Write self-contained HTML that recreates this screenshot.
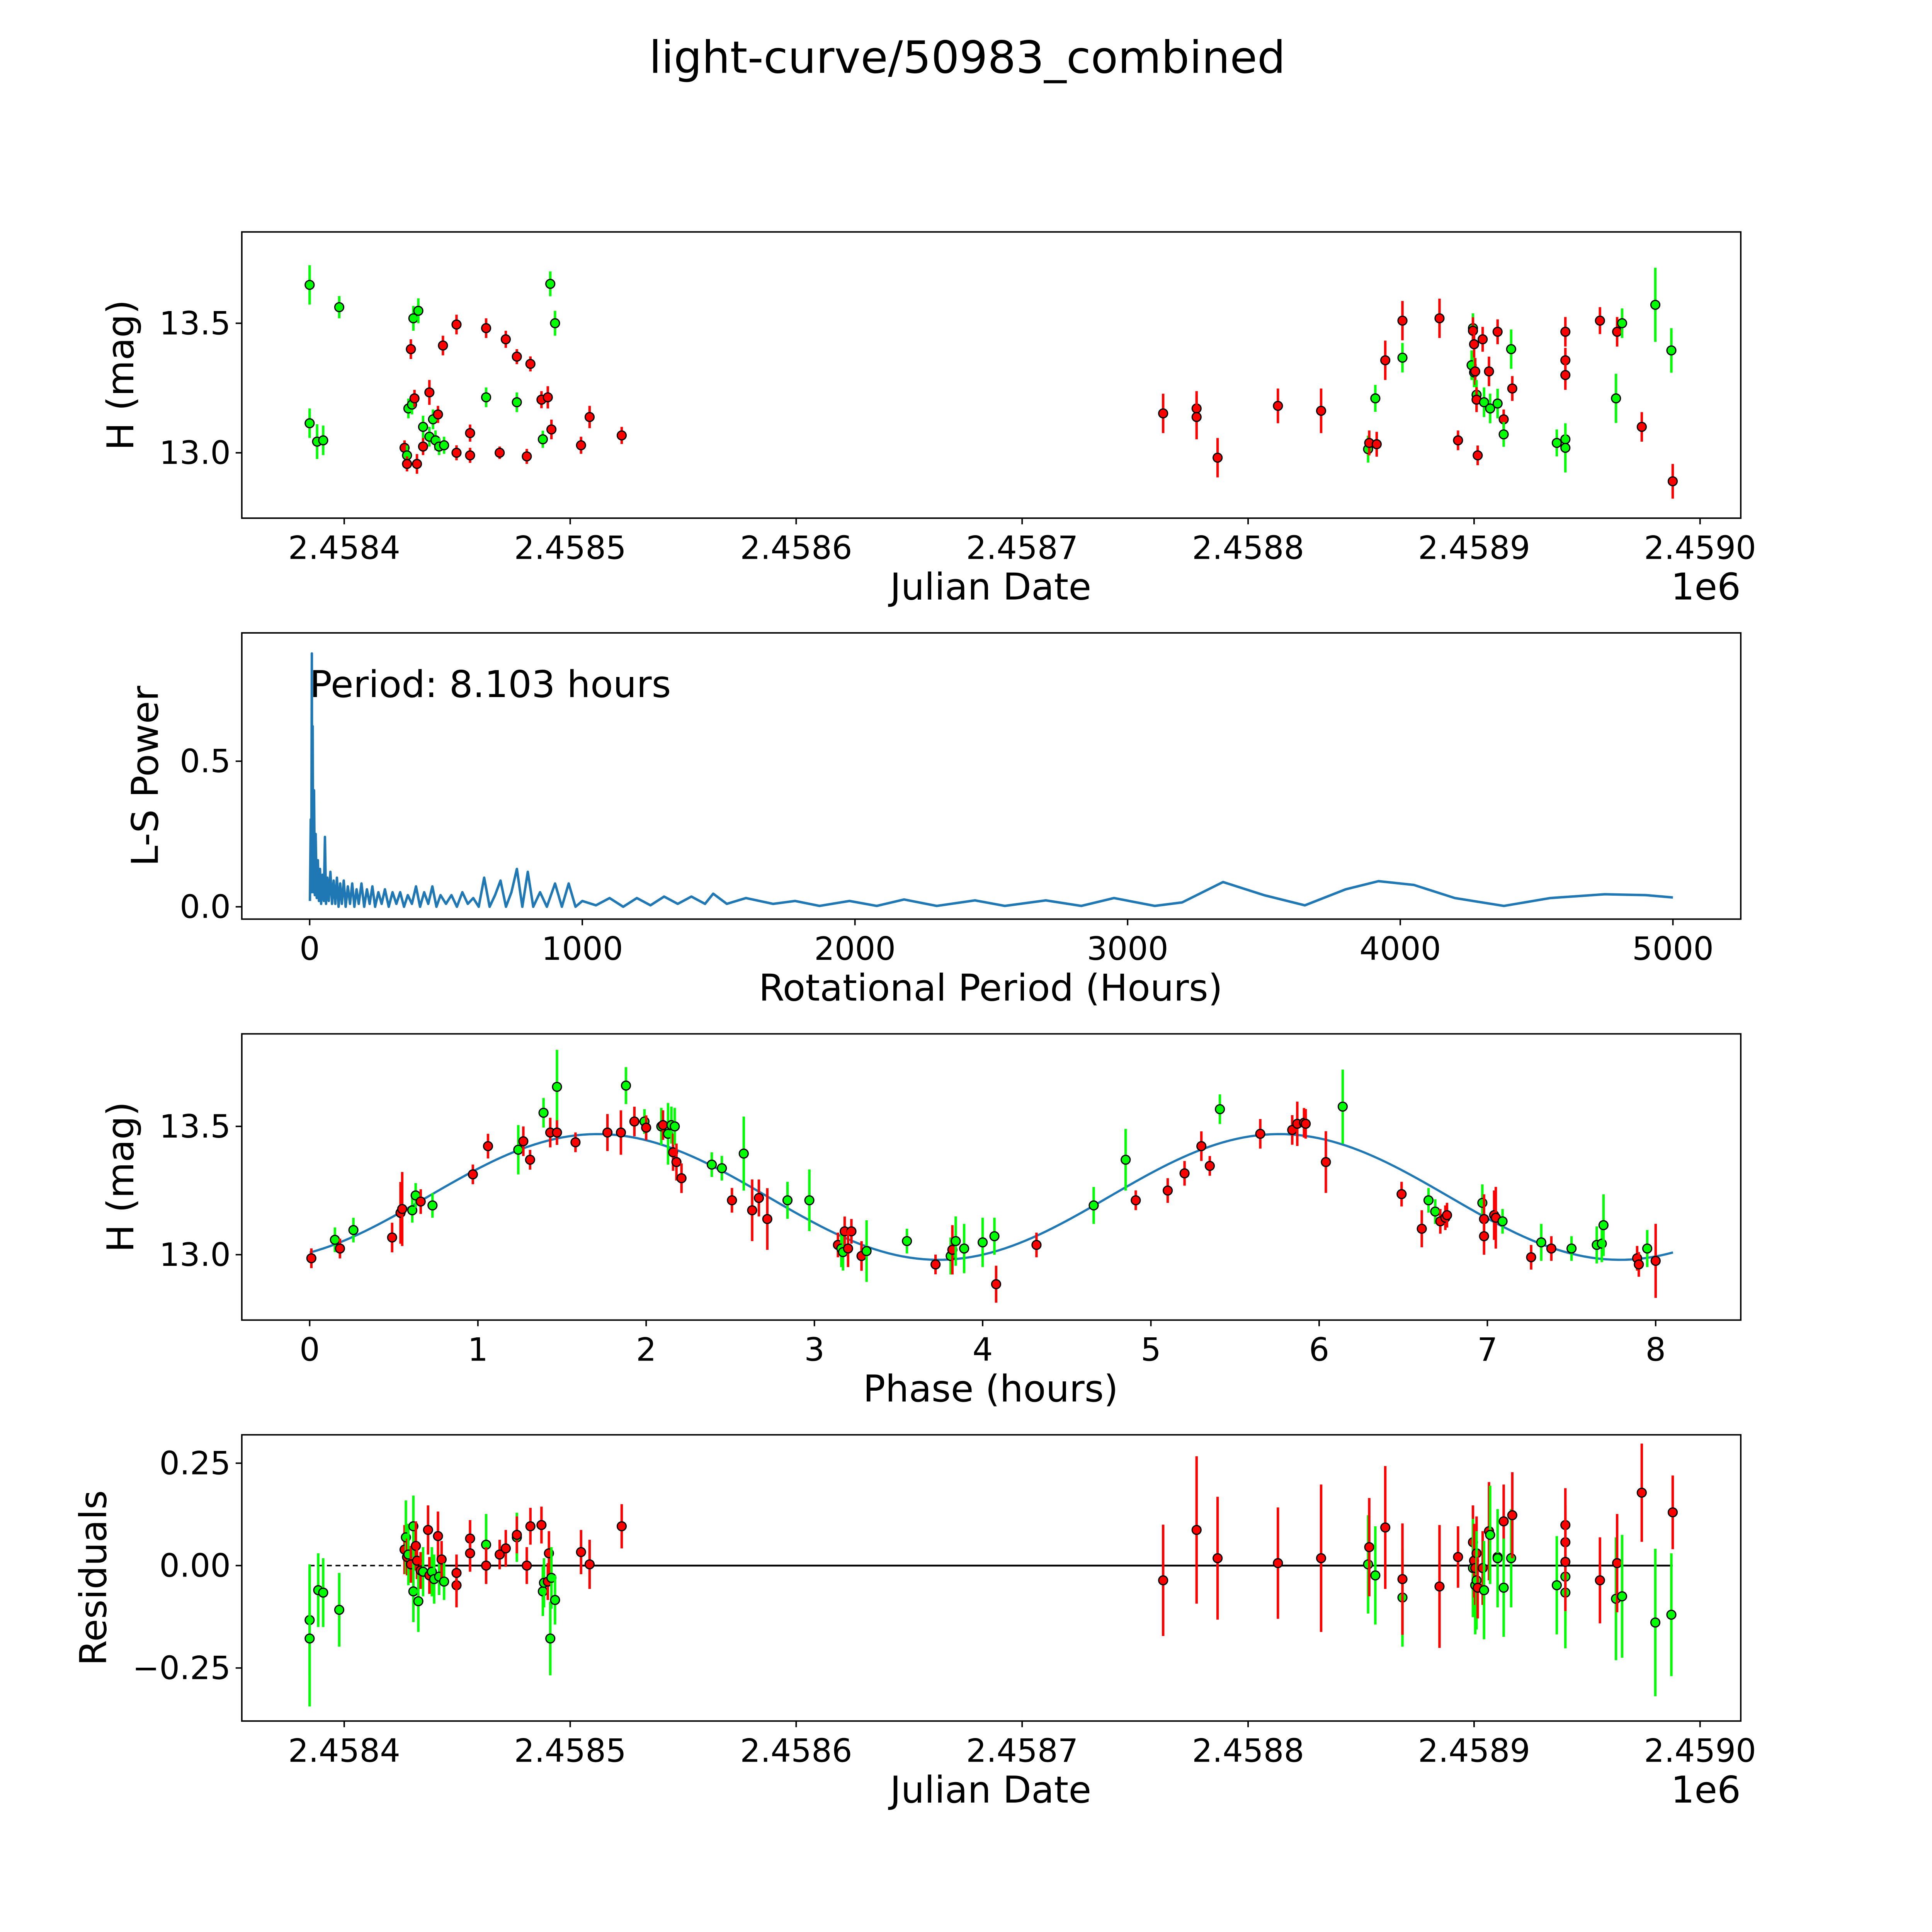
<!DOCTYPE html>
<html><head><meta charset="utf-8"><style>
html,body{margin:0;padding:0;background:#fff;width:100%;height:100%;overflow:hidden;}
svg{display:block;position:absolute;left:0;top:0;width:100vw;height:100vh;}
text{font-family:"DejaVu Sans","Liberation Sans",sans-serif;fill:#000;}
</style></head><body>
<svg id="fig" xmlns="http://www.w3.org/2000/svg" viewBox="0 0 1566 1566" preserveAspectRatio="xMinYMin meet">
<rect x="0" y="0" width="1566" height="1566" fill="#fff"/>
<text x="784" y="59" font-size="36" text-anchor="middle">light-curve/50983_combined</text>
<g id="p1"></g>
<g id="p2"></g>
<g id="p3"></g>
<g id="p4"></g>
</svg>
<script>
// ---- Panel 1 data: days since JD 2458400, magnitude, error, filter ----
const lcDays=[-15.3,-15.3,-12.0,-9.3,-2.2,26.7,27.8,27.8,28.4,29.5,30.0,30.6,31.1,32.8,32.2,34.9,34.9,37.7,37.7,39.3,40.4,41.5,42.0,44.2,43.7,49.7,49.7,55.7,55.7,62.8,62.8,68.8,71.5,76.4,76.4,80.8,82.4,87.3,87.9,90.1,91.2,91.7,93.3,104.8,108.6,122.8,362.4,377.2,377.2,386.5,413.2,432.3,453.1,453.6,456.9,456.3,460.7,468.3,468.3,484.7,492.9,498.9,499.5,499.5,500.0,500.0,500.5,501.1,501.1,501.6,503.8,504.4,506.6,507.1,510.4,510.4,513.1,513.1,516.4,516.9,536.6,540.4,540.4,540.4,540.4,540.4,555.7,562.8,563.3,565.5,574.2,580.2,587.3,587.9];
const lcMag=[13.648,13.114,13.043,13.048,13.562,13.019,12.990,12.957,13.171,13.400,13.186,13.519,13.210,13.548,12.957,13.100,13.024,13.233,13.062,13.129,13.048,13.148,13.024,13.029,13.414,13.495,13.000,12.990,13.076,13.214,13.481,13.000,13.438,13.195,13.371,12.986,13.343,13.205,13.052,13.214,13.652,13.090,13.500,13.029,13.138,13.067,13.152,13.171,13.138,12.981,13.181,13.162,13.014,13.038,13.033,13.210,13.357,13.367,13.510,13.519,13.048,13.338,13.481,13.471,13.419,13.310,13.314,13.224,13.205,12.990,13.438,13.195,13.314,13.171,13.467,13.190,13.129,13.071,13.400,13.248,13.038,13.052,13.019,13.467,13.357,13.300,13.510,13.210,13.467,13.500,13.100,13.571,13.395,12.890];
const lcErr=[0.076,0.057,0.067,0.057,0.043,0.029,0.038,0.029,0.038,0.038,0.038,0.048,0.033,0.048,0.038,0.043,0.033,0.048,0.038,0.038,0.038,0.033,0.033,0.033,0.038,0.038,0.029,0.029,0.033,0.038,0.038,0.024,0.033,0.038,0.029,0.029,0.029,0.033,0.033,0.043,0.048,0.038,0.048,0.033,0.043,0.033,0.076,0.067,0.086,0.076,0.067,0.086,0.052,0.048,0.048,0.052,0.076,0.057,0.076,0.076,0.038,0.057,0.057,0.052,0.052,0.057,0.052,0.057,0.048,0.038,0.048,0.057,0.057,0.057,0.048,0.057,0.038,0.048,0.076,0.048,0.052,0.052,0.095,0.057,0.048,0.057,0.052,0.095,0.057,0.057,0.057,0.143,0.086,0.067];
const lcFilt="ggggg rgrgr ggrgr grrgg grggr rrrrg rrrgr rrrgr grgrr rrrrr rrgrr grgrr rggrr grgrr rgrgr grggr gggrr rrgrg rggr".replace(/ /g,'');

// ---- Panel 2 data: periodogram ----
const lsPeriod=[1,4,6,8,9,11,13,16,19,22,26,30,34,38,42,47,52,56,60,65,70,76,82,88,94,100,106,112,118,125,132,140,148,156,164,172,180,190,200,210,220,230,240,252,264,276,290,304,318,332,346,360,375,390,405,420,435,450,465,480,500,520,540,560,580,600,620,640,660,680,700,720,740,760,780,800,820,845,870,900,925,950,975,1000,1050,1100,1150,1200,1250,1300,1350,1400,1450,1480,1530,1600,1700,1780,1870,1980,2080,2180,2300,2440,2550,2700,2830,2950,3100,3200,3350,3500,3650,3800,3920,4050,4200,4380,4550,4750,4900,5000];
const lsPower=[0.02,0.3,0.05,0.87,0.2,0.62,0.05,0.4,0.04,0.25,0.03,0.16,0.02,0.13,0.01,0.11,0.02,0.24,0.01,0.1,0.02,0.12,0.01,0.09,0.01,0.1,0.0,0.08,0.01,0.09,0.0,0.07,0.01,0.08,0.0,0.06,0.01,0.08,0.0,0.06,0.01,0.07,0.0,0.05,0.01,0.06,0.0,0.05,0.01,0.05,0.0,0.04,0.01,0.07,0.0,0.05,0.01,0.07,0.0,0.04,0.01,0.04,0.0,0.05,0.01,0.03,0.0,0.1,0.0,0.04,0.09,0.0,0.05,0.13,0.0,0.12,0.0,0.05,0.0,0.08,0.0,0.08,0.0,0.02,0.005,0.03,0.0,0.03,0.005,0.035,0.01,0.035,0.01,0.045,0.01,0.03,0.01,0.02,0.003,0.02,0.003,0.025,0.003,0.022,0.003,0.022,0.003,0.03,0.003,0.015,0.085,0.04,0.005,0.06,0.088,0.075,0.03,0.003,0.03,0.043,0.04,0.032];

// ---- Panel 3 data: phase (hours), magnitude, error, filter ----
const phHours=[0.01,0.15,0.18,0.26,0.49,0.54,0.55,0.61,0.63,0.66,0.73,0.97,1.06,1.24,1.27,1.31,1.39,1.43,1.47,1.47,1.58,1.77,1.85,1.88,1.93,1.99,2.0,2.09,2.10,2.13,2.15,2.16,2.17,2.18,2.21,2.39,2.45,2.51,2.58,2.63,2.67,2.72,2.84,2.97,3.14,3.16,3.17,3.18,3.22,3.2,3.28,3.31,3.55,3.72,3.81,3.82,3.84,3.89,4.0,4.07,4.08,4.32,4.66,4.85,4.91,5.1,5.2,5.3,5.35,5.41,5.65,5.84,5.87,5.91,5.92,6.04,6.14,6.49,6.61,6.65,6.69,6.72,6.75,6.76,6.97,6.98,6.98,7.04,7.05,7.09,7.26,7.32,7.38,7.5,7.65,7.68,7.69,7.89,7.9,7.95,8.0];
const phMag=[12.986,13.058,13.024,13.096,13.067,13.163,13.178,13.173,13.231,13.207,13.192,13.313,13.423,13.409,13.442,13.370,13.553,13.476,13.654,13.476,13.438,13.476,13.476,13.659,13.519,13.519,13.495,13.500,13.505,13.471,13.505,13.399,13.500,13.361,13.298,13.351,13.337,13.212,13.394,13.173,13.221,13.139,13.212,13.212,13.038,13.024,13.010,13.091,13.091,13.024,12.995,13.014,13.053,12.962,12.995,13.019,13.053,13.024,13.048,13.072,12.885,13.038,13.192,13.370,13.212,13.250,13.317,13.423,13.346,13.567,13.471,13.486,13.510,13.514,13.510,13.361,13.577,13.236,13.101,13.212,13.168,13.130,13.144,13.154,13.202,13.139,13.072,13.154,13.144,13.130,12.990,13.048,13.024,13.024,13.038,13.043,13.115,12.986,12.962,13.024,12.976];
const phErrPx=[8,10,8,10,12,25,30,10,10,10,10,8,10,20,12,8,12,12,30,10,8,15,18,15,12,10,10,15,12,25,15,15,15,15,12,10,10,10,30,25,15,25,15,25,10,15,15,12,10,15,12,25,10,8,15,20,20,20,20,15,15,10,15,25,8,10,10,12,8,12,12,12,18,12,12,25,30,10,15,10,10,10,10,10,15,20,15,20,25,10,10,15,10,10,15,15,25,10,10,15,30];
const phFilt="rgrgr rrggr grrgr rgrgr rrrgr grgrg grgrr ggrgr rrggr ggrrr rggrg rgggg rrggr rrrrg rrrrr rgrrg grrrg rrrrg rgrgg ggrrg r".replace(/ /g,'');
const fitMean=13.225, fitAmp=0.245, fitOffset=0.7, fitHalfPeriod=4.05, fitEnd=8.103;

// ---- Panel 4 data: residuals ----
const resDays=[-15.3,-15.3,-11.5,-9.3,-2.2,26.7,27.3,27.8,28.4,29.5,30.6,30.6,31.7,32.2,32.8,33.8,34.9,37.1,37.7,38.8,39.8,41.5,42.0,43.1,44.2,49.7,49.7,55.7,55.7,62.8,62.8,68.8,71.5,76.4,76.4,80.8,82.4,87.3,87.9,88.4,90.1,90.6,91.2,91.7,93.3,104.8,108.6,122.8,362.4,377.2,386.5,413.2,432.3,453.1,453.6,456.3,460.7,468.3,468.3,484.7,492.9,499.5,499.5,500.0,500.5,500.5,501.1,501.1,501.6,503.8,504.4,506.6,507.1,510.4,510.4,513.1,513.1,516.4,516.9,536.6,540.4,540.4,540.4,540.4,540.4,555.7,562.8,563.3,565.5,574.2,580.2,587.3,587.9];
const resVal=[-0.133,-0.178,-0.060,-0.066,-0.108,0.039,0.069,0.021,0.027,0.003,0.096,-0.063,0.048,0.012,-0.087,-0.012,-0.015,0.087,-0.024,-0.015,-0.033,0.072,-0.027,0.015,-0.039,-0.048,-0.018,0.066,0.030,0.051,0.0,0.027,0.042,0.069,0.075,0.0,0.096,0.099,-0.063,-0.042,-0.039,0.030,-0.178,-0.030,-0.084,0.033,0.003,0.096,-0.036,0.087,0.018,0.006,0.018,0.003,0.045,-0.024,0.093,-0.078,-0.033,-0.051,0.021,0.057,-0.006,0.012,-0.048,-0.006,0.030,-0.036,-0.054,-0.006,-0.060,0.084,0.075,0.021,0.018,0.108,-0.054,0.018,0.123,-0.048,-0.027,-0.066,0.099,0.057,0.009,-0.036,-0.081,0.006,-0.075,0.178,-0.139,-0.120,0.130];
const resErr=[0.136,0.166,0.09,0.084,0.09,0.06,0.09,0.045,0.075,0.045,0.075,0.075,0.06,0.045,0.075,0.045,0.06,0.06,0.045,0.06,0.06,0.06,0.045,0.045,0.045,0.054,0.045,0.045,0.045,0.075,0.045,0.036,0.045,0.06,0.045,0.045,0.045,0.045,0.06,0.06,0.045,0.054,0.09,0.075,0.06,0.054,0.06,0.054,0.136,0.18,0.15,0.136,0.18,0.12,0.12,0.12,0.15,0.12,0.136,0.15,0.075,0.09,0.12,0.09,0.12,0.09,0.09,0.12,0.075,0.09,0.12,0.12,0.12,0.09,0.12,0.09,0.12,0.12,0.105,0.12,0.12,0.136,0.09,0.09,0.12,0.105,0.15,0.12,0.15,0.12,0.18,0.15,0.09];
const resFilt="ggggg rgrgr ggrrg rgrrg grgrg rrrrg rrrgr rrrgg rrggg rrrrr rrrgr grgrr rrgrg rrgrr grgrg rggrg ggrrr rgrgr ggr".replace(/ /g,'');
const jdTicks=[2.4584,2.4585,2.4586,2.4587,2.4588,2.4589,2.4590];

const NS="http://www.w3.org/2000/svg";
function mk(parent,tag,attrs){const e=document.createElementNS(NS,tag);for(const k in attrs)e.setAttribute(k,attrs[k]);parent.appendChild(e);return e;}
function lin(d0,d1,p0,p1){return v=>p0+(v-d0)*(p1-p0)/(d1-d0);}
const L=196,R=1411;
const TICKFS=26, LABFS=30;
function frame(g,top,bot){
  const r=mk(g,'rect',{x:L,y:top,width:R-L,height:bot-top,fill:'none',stroke:'#000','stroke-width':1.2});
  
  
}
function xtick(g,x,bot,label){
  const t=mk(g,'line',{x1:x,x2:x,y1:bot,y2:bot+5,stroke:'#000','stroke-width':1.2});
  
  
  const tx=mk(g,'text',{x:x,y:bot+33,'font-size':TICKFS,'text-anchor':'middle'});tx.textContent=label;
  
  
}
function ytick(g,y,label){
  const t=mk(g,'line',{x1:L-5,x2:L,y1:y,y2:y,stroke:'#000','stroke-width':1.2});
  
  
  const tx=mk(g,'text',{x:L-9,y:y+9,'font-size':TICKFS,'text-anchor':'end'});tx.textContent=label;
  
  
}
function xlabel(g,y,label){
  const tx=mk(g,'text',{x:803,y:y,'font-size':LABFS,'text-anchor':'middle'});tx.textContent=label;
  
  
}
function ylabel(g,x,yc,label){
  const tx=mk(g,'text',{x:x,y:yc,'font-size':LABFS,'text-anchor':'middle',transform:`rotate(-90 ${x} ${yc})`});tx.textContent=label;
  
  
}
function offLabel(g,y){
  const off=mk(g,'text',{x:1411,y:y,'font-size':LABFS,'text-anchor':'end'});off.textContent='1e6';
  
  
}
function point(g,x,y,ey0,ey1,c){
  const col=c==='g'?'#00ff00':'#ff0000';
  const e=mk(g,'line',{x1:x,x2:x,y1:ey0,y2:ey1,stroke:col,'stroke-width':2});
  
  
  const p=mk(g,'circle',{cx:x,cy:y,r:3.6,fill:col,stroke:'#000','stroke-width':1});
  
  
}

// Panel 1
(function(){
  const g=document.getElementById('p1');const T=188,B=420;
  const sx=lin(0,600,279,1378),sy=lin(13.0,13.5,367,262);
  frame(g,T,B);
  jdTicks.forEach(t=>xtick(g,sx((t-2.4584)*1e6),B,t.toFixed(4)));
  [13.0,13.5].forEach(v=>ytick(g,sy(v),v.toFixed(1)));
  xlabel(g,486,'Julian Date');
  offLabel(g,486);
  ylabel(g,108,304,'H (mag)');
  lcDays.forEach((d,i)=>point(g,sx(d),sy(lcMag[i]),sy(lcMag[i]-lcErr[i]),sy(lcMag[i]+lcErr[i]),lcFilt[i]));
})();

// Panel 2
(function(){
  const g=document.getElementById('p2');const T=513,B=745;
  const sx=lin(0,5000,251,1356),sy=lin(0,0.5,735,617);
  frame(g,T,B);
  [0,1000,2000,3000,4000,5000].forEach(v=>xtick(g,sx(v),B,String(v)));
  [0.0,0.5].forEach(v=>ytick(g,sy(v),v.toFixed(1)));
  xlabel(g,811,'Rotational Period (Hours)');
  ylabel(g,128,629,'L-S Power');
  const d=lsPeriod.map((p,i)=>(i?'L':'M')+sx(p).toFixed(2)+' '+sy(lsPower[i]).toFixed(2)).join(' ');
  const path=mk(g,'path',{d:d,fill:'none',stroke:'#1f77b4','stroke-width':2,'stroke-linejoin':'round'});
  
  
  const tx=mk(g,'text',{x:251,y:565,'font-size':LABFS});tx.textContent='Period: 8.103 hours';
  
  
})();

// Panel 3
(function(){
  const g=document.getElementById('p3');const T=838,B=1070;
  const sx=lin(0,8,251,1342),sy=lin(13.0,13.5,1017,913);
  frame(g,T,B);
  [0,1,2,3,4,5,6,7,8].forEach(v=>xtick(g,sx(v),B,String(v)));
  [13.0,13.5].forEach(v=>ytick(g,sy(v),v.toFixed(1)));
  xlabel(g,1136,'Phase (hours)');
  ylabel(g,108,954,'H (mag)');
  let d='';
  for(let i=0;i<=200;i++){const p=fitEnd*i/200;const m=fitMean+fitAmp*Math.sin(2*Math.PI*(p-fitOffset)/fitHalfPeriod);d+=(i?'L':'M')+sx(p).toFixed(2)+' '+sy(m).toFixed(2)+' ';}
  const path=mk(g,'path',{d:d,fill:'none',stroke:'#1f77b4','stroke-width':1.8});
  
  
  phHours.forEach((p,i)=>{const e=phErrPx[i]/208;point(g,sx(p),sy(phMag[i]),sy(phMag[i]-e),sy(phMag[i]+e),phFilt[i]);});
})();

// Panel 4
(function(){
  const g=document.getElementById('p4');const T=1163,B=1395;
  const sx=lin(0,600,279,1378),sy=lin(0,0.25,1269,1186);
  frame(g,T,B);
  jdTicks.forEach(t=>xtick(g,sx((t-2.4584)*1e6),B,t.toFixed(4)));
  [0.25,0.0,-0.25].forEach(v=>ytick(g,sy(v),(v<0?'\u22120.25':v.toFixed(2))));
  xlabel(g,1461,'Julian Date');
  offLabel(g,1461);
  ylabel(g,86,1279,'Residuals');
  const dl=mk(g,'line',{x1:sx(resDays[0]),x2:sx(28),y1:sy(0),y2:sy(0),stroke:'#000','stroke-width':1.2,'stroke-dasharray':'4 3'});
  
  
  const sl=mk(g,'line',{x1:sx(28),x2:sx(587.9),y1:sy(0),y2:sy(0),stroke:'#000','stroke-width':1.5});
  
  
  resDays.forEach((d,i)=>point(g,sx(d),sy(resVal[i]),sy(resVal[i]-resErr[i]),sy(resVal[i]+resErr[i]),resFilt[i]));
})();
</script>
</body></html>
